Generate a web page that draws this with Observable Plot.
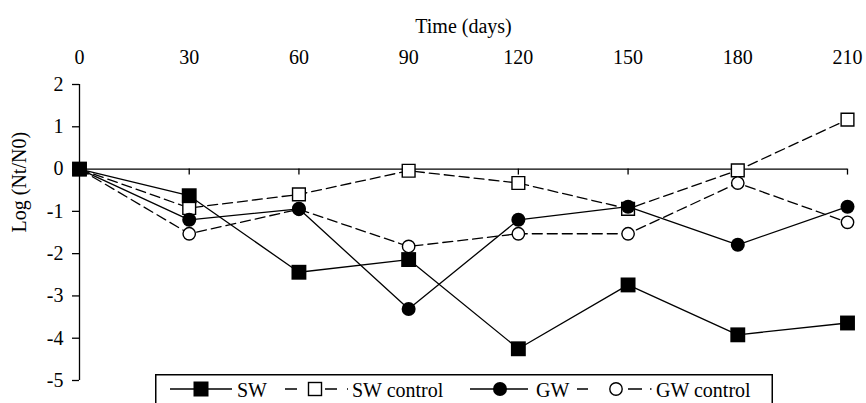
<!DOCTYPE html>
<html>
<head>
<meta charset="utf-8">
<script src="https://cdn.jsdelivr.net/npm/d3@7"></script>
<script src="https://cdn.jsdelivr.net/npm/@observablehq/plot@0.6"></script>
<style>
  html, body { margin: 0; padding: 0; background: #fff; }
  #wrap { position: relative; width: 866px; height: 403px; overflow: hidden; }
  #legend { position: absolute; left: 155px; top: 374px; }
</style>
</head>
<body>
<div id="wrap"></div>
<script>
// ---- data ----
const days = [0, 30, 60, 90, 120, 150, 180, 210];
const sw = [0, -0.63, -2.44, -2.14, -4.25, -2.74, -3.92, -3.64];
const swControl = [0, -0.92, -0.60, -0.04, -0.33, -0.94, -0.03, 1.17];
const gw = [0, -1.20, -0.94, -3.31, -1.20, -0.89, -1.79, -0.89];
const gwControl = [0, -1.53, -0.95, -1.83, -1.53, -1.53, -0.33, -1.26];
const xTicks = [0, 30, 60, 90, 120, 150, 180, 210];
const yTicks = [-5, -4, -3, -2, -1, 0, 1, 2];
const seriesNames = ["SW", "SW control", "GW", "GW control"];
const xTitle = "Time (days)";
const yTitle = "Log (Nt/N0)";

const rows = days.map((d, i) => ({day: d, sw: sw[i], swc: swControl[i], gw: gw[i], gwc: gwControl[i]}));

const font = "'Liberation Serif', 'Times New Roman', serif";
const dash = "10,5";
const lw = 1.3;

const chart = Plot.plot({
  width: 866,
  height: 403,
  marginTop: 84,
  marginBottom: 23,
  marginLeft: 79,
  marginRight: 19,
  style: {fontFamily: font, fontSize: "20px", background: "white", color: "black"},
  x: {domain: [0, 210]},
  y: {domain: [-5, 2]},
  marks: [
    Plot.axisY({ticks: yTicks, tickSize: 7, tickPadding: 9, tickFormat: d => String(d), label: null, strokeWidth: lw}),
    Plot.axisX({anchor: "top", ticks: xTicks, tickSize: 0, tickPadding: 21, tickFormat: d => String(d), label: null}),
    Plot.ruleX([0], {stroke: "black", strokeWidth: lw}),
    Plot.ruleY([0], {stroke: "black", strokeWidth: lw}),
    Plot.ruleX(xTicks.slice(1), {y1: 0, y2: 0, insetBottom: -6, stroke: "black", strokeWidth: lw}),
    Plot.line(rows, {x: "day", y: "swc", stroke: "black", strokeWidth: lw, strokeDasharray: dash}),
    Plot.line(rows, {x: "day", y: "gwc", stroke: "black", strokeWidth: lw, strokeDasharray: dash}),
    Plot.line(rows, {x: "day", y: "sw", stroke: "black", strokeWidth: lw}),
    Plot.line(rows, {x: "day", y: "gw", stroke: "black", strokeWidth: lw}),
    Plot.dot(rows, {x: "day", y: "swc", symbol: "square", r: 7.2, fill: "white", stroke: "black", strokeWidth: 1.4}),
    Plot.dot(rows, {x: "day", y: "gwc", symbol: "circle", r: 6.2, fill: "white", stroke: "black", strokeWidth: 1.4}),
    Plot.dot(rows, {x: "day", y: "sw", symbol: "square", r: 8.4, fill: "black", stroke: "none"}),
    Plot.dot(rows, {x: "day", y: "gw", symbol: "circle", r: 7, fill: "black", stroke: "none"}),
    Plot.text([xTitle], {frameAnchor: "top", dy: -66, fill: "black"}),
    Plot.text([yTitle], {frameAnchor: "left", dx: -60, rotate: -90, fill: "black"})
  ]
});

const wrap = document.getElementById("wrap");
wrap.appendChild(chart);

// ---- legend ----
const leg = d3.create("svg")
  .attr("id", "legend")
  .attr("width", 620)
  .attr("height", 29)
  .style("font-family", font)
  .style("font-size", "20px");
leg.append("rect")
  .attr("x", 0.75).attr("y", 0.75).attr("width", 616.5).attr("height", 60)
  .attr("fill", "white").attr("stroke", "black").attr("stroke-width", 1.5);

const items = [
  {name: seriesNames[0], x0: 15, x1: 77, cx: 46, dash: null, shape: "square", filled: true, tx: 82},
  {name: seriesNames[1], x0: 130, x1: 193, cx: 160, dash: "12,28,12,10,1.5,20", shape: "square", filled: false, tx: 197},
  {name: seriesNames[2], x0: 315, x1: 373, cx: 345, dash: null, shape: "circle", filled: true, tx: 381},
  {name: seriesNames[3], x0: 422, x1: 497, cx: 461, dash: "11,40,14,8,1.5,20", shape: "circle", filled: false, tx: 501}
];
const ly = 15;
for (const it of items) {
  const g = leg.append("g");
  g.append("line").attr("x1", it.x0).attr("x2", it.x1).attr("y1", ly).attr("y2", ly)
    .attr("stroke", "black").attr("stroke-width", lw)
    .attr("stroke-dasharray", it.dash);
  if (it.shape === "square") {
    const s = it.filled ? 15 : 13;
    g.append("rect").attr("x", it.cx - s / 2).attr("y", ly - s / 2).attr("width", s).attr("height", s)
      .attr("fill", it.filled ? "black" : "white").attr("stroke", it.filled ? "none" : "black").attr("stroke-width", 1.4);
  } else {
    const r = it.filled ? 7 : 6.2;
    g.append("circle").attr("cx", it.cx).attr("cy", ly).attr("r", r)
      .attr("fill", it.filled ? "black" : "white").attr("stroke", it.filled ? "none" : "black").attr("stroke-width", 1.4);
  }
  g.append("text").attr("x", it.tx).attr("y", 23).attr("fill", "black").text(it.name);
}
wrap.appendChild(leg.node());
</script>
</body>
</html>
